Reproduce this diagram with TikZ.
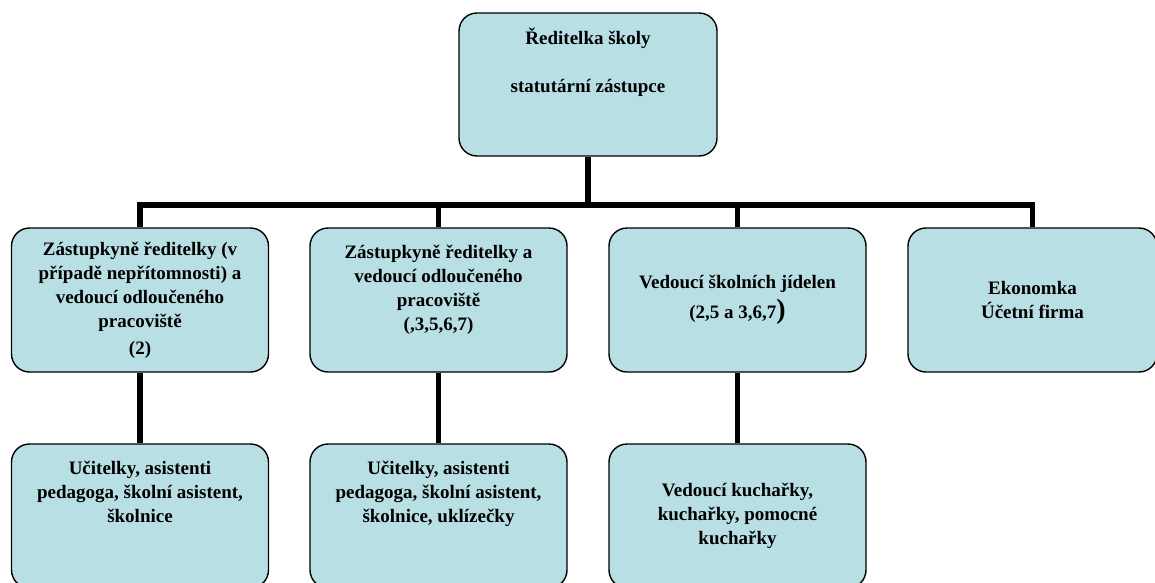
\documentclass[tikz,border=0pt]{standalone}
\usepackage{fontspec}
\setmainfont{Liberation Serif}
\usetikzlibrary{positioning}
\definecolor{boxblue}{RGB}{184,223,227}

\begin{document}
\begin{tikzpicture}[x=1pt,y=-1pt,
  unit/.style={draw=black,line width=1.4pt,fill=boxblue,rounded corners=18pt,
    align=center,inner sep=2pt,minimum width=257pt,minimum height=144pt,
    font=\fontsize{19}{24}\selectfont\bfseries},
  link/.style={line width=5.5pt}]
\useasboundingbox (0,0) rectangle (1155,582);
\clip (0,0) rectangle (1155,582);

% top
\node[unit,minimum width=258pt,minimum height=143pt] (reditelka) at (588,84.5)
  {Ředitelka školy\\[24pt]statutární zástupce\\[24pt]\mbox{}};

% second row
\node[unit] (zast1) at (140,300)
  {Zástupkyně ředitelky (v\\případě nepřítomnosti) a\\vedoucí odloučeného\\pracoviště\\[3pt](2)};
\node[unit] (zast2) at (438.5,300)
  {Zástupkyně ředitelky a\\vedoucí odloučeného\\pracoviště\\(,3,5,6,7)\\\mbox{}};
\node[unit] (jidelna) at (737.5,300)
  {Vedoucí školních jídelen\\[6pt](2,5 a 3,6,7{\fontsize{28}{28}\selectfont )}};
\node[unit,minimum width=249pt] (ekon) at (1032.5,300)
  {Ekonomka\\Účetní firma};

% third row
\node[unit] (ucit1) at (140,516)
  {Učitelky, asistenti\\pedagoga, školní asistent,\\školnice\\[24pt]\mbox{}};
\node[unit] (ucit2) at (438.5,516)
  {Učitelky, asistenti\\pedagoga, školní asistent,\\školnice, uklízečky\\[24pt]\mbox{}};
\node[unit] (kuchar) at (737.5,516)
  {Vedoucí kuchařky,\\kuchařky, pomocné\\kuchařky};

% links
\coordinate (bar) at (0,205);
\draw[link] (reditelka.south) -- (reditelka.south |- bar);
\draw[link] (zast1.north) |- (bar -| ekon.north) -- (ekon.north);
\draw[link] (zast2.north) -- (zast2.north |- bar);
\draw[link] (jidelna.north) -- (jidelna.north |- bar);
\draw[link] (zast1.south) -- (ucit1.north);
\draw[link] (zast2.south) -- (ucit2.north);
\draw[link] (jidelna.south) -- (kuchar.north);

\end{tikzpicture}
\end{document}
